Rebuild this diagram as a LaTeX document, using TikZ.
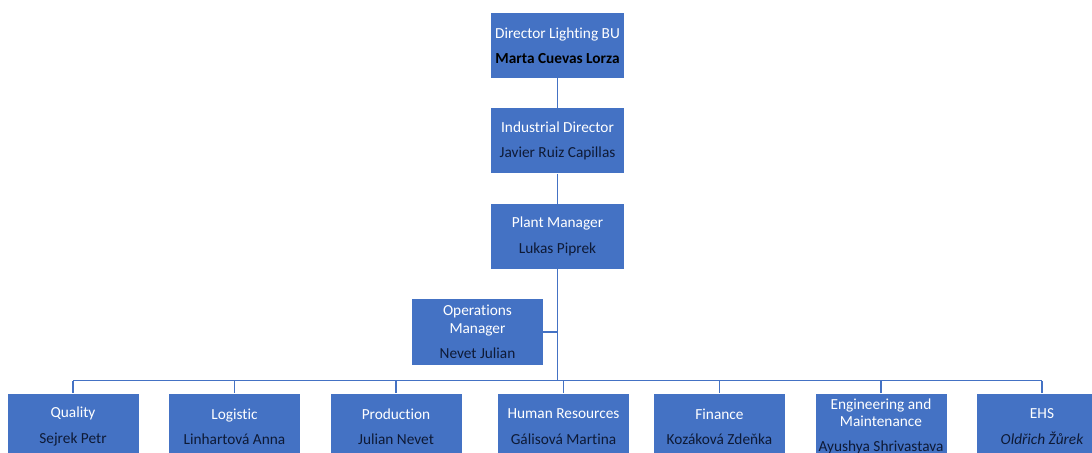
\documentclass[tikz,border=0pt]{standalone}
\usepackage{fontspec}
\setmainfont{Carlito}[Ligatures=NoCommon]
\usetikzlibrary{positioning}
\definecolor{boxblue}{HTML}{4472C4}
\definecolor{namedark}{HTML}{0E1A36}

\begin{document}
\begin{tikzpicture}[x=0.75pt,y=-0.75pt,node distance=71.6pt]
      \tikzstyle{topbox} = [rectangle, minimum width=99.75pt, minimum height=48.75pt, inner sep=1pt, text centered, align=center, fill=boxblue, text=white, font=\fontsize{11.5}{13}\selectfont]
      \tikzstyle{deptbox} = [topbox, minimum width=98.25pt, minimum height=49.5pt]
      \tikzstyle{link} = [line width=1.2pt, draw=boxblue]

      \useasboundingbox (0,0) rectangle (1092,453);
      \clip (0,0) rectangle (1092,453);

      \node (dir) [topbox] at (557.5,45.5) {Director Lighting BU\\[6pt]\textcolor{black}{\textbf{Marta Cuevas Lorza}}};
      \node (ind) [topbox, below of=dir] {Industrial Director\\[6pt]\textcolor{namedark}{Javier Ruiz Capillas}};
      \node (plant) [topbox, below of=ind] {Plant Manager\\[6pt]\textcolor{namedark}{Lukas Piprek}};
      \node (ops) [deptbox] at (477.5,332) {Operations\\Manager\\[6pt]\textcolor{namedark}{Nevet Julian}};

      \node (qual) [deptbox] at (73,426.5) {Quality\\[6pt]\textcolor{namedark}{Sejrek Petr}};
      \node (logi) [deptbox] at (234.5,426.5) {Logistic\\[6pt]\textcolor{namedark}{Linhartová Anna}};
      \node (prod) [deptbox] at (396,426.5) {Production\\[6pt]\textcolor{namedark}{Julian Nevet}};
      \node (hr) [deptbox] at (563.5,426.5) {Human Resources\\[6pt]\textcolor{namedark}{Gálisová Martina}};
      \node (fin) [deptbox] at (719.5,426.5) {Finance\\[6pt]\textcolor{namedark}{Kozáková Zdeňka}};
      \node (eng) [deptbox] at (881,426.5) {Engineering and\\Maintenance\\[6pt]\textcolor{namedark}{Ayushya Shrivastava}};
      \node (ehs) [deptbox] at (1042,426.5) {EHS\\[6pt]\textcolor{namedark}{\itshape Oldřich Žůrek}};

      \coordinate (bus) at (558,380.5);

      \draw [link] (dir) -- (ind);
      \draw [link] (ind) -- (plant);
      \draw [link] (plant.south) -- (plant.south |- bus);
      \draw [link] (ops.east) -- (ops.east -| plant.south);

      \draw [link] (qual.north |- bus) -- (ehs.north |- bus);
      \draw [link] (qual.north) -- (qual.north |- bus);
      \draw [link] (logi.north) -- (logi.north |- bus);
      \draw [link] (prod.north) -- (prod.north |- bus);
      \draw [link] (hr.north) -- (hr.north |- bus);
      \draw [link] (fin.north) -- (fin.north |- bus);
      \draw [link] (eng.north) -- (eng.north |- bus);
      \draw [link] (ehs.north) -- (ehs.north |- bus);
\end{tikzpicture}
\end{document}
